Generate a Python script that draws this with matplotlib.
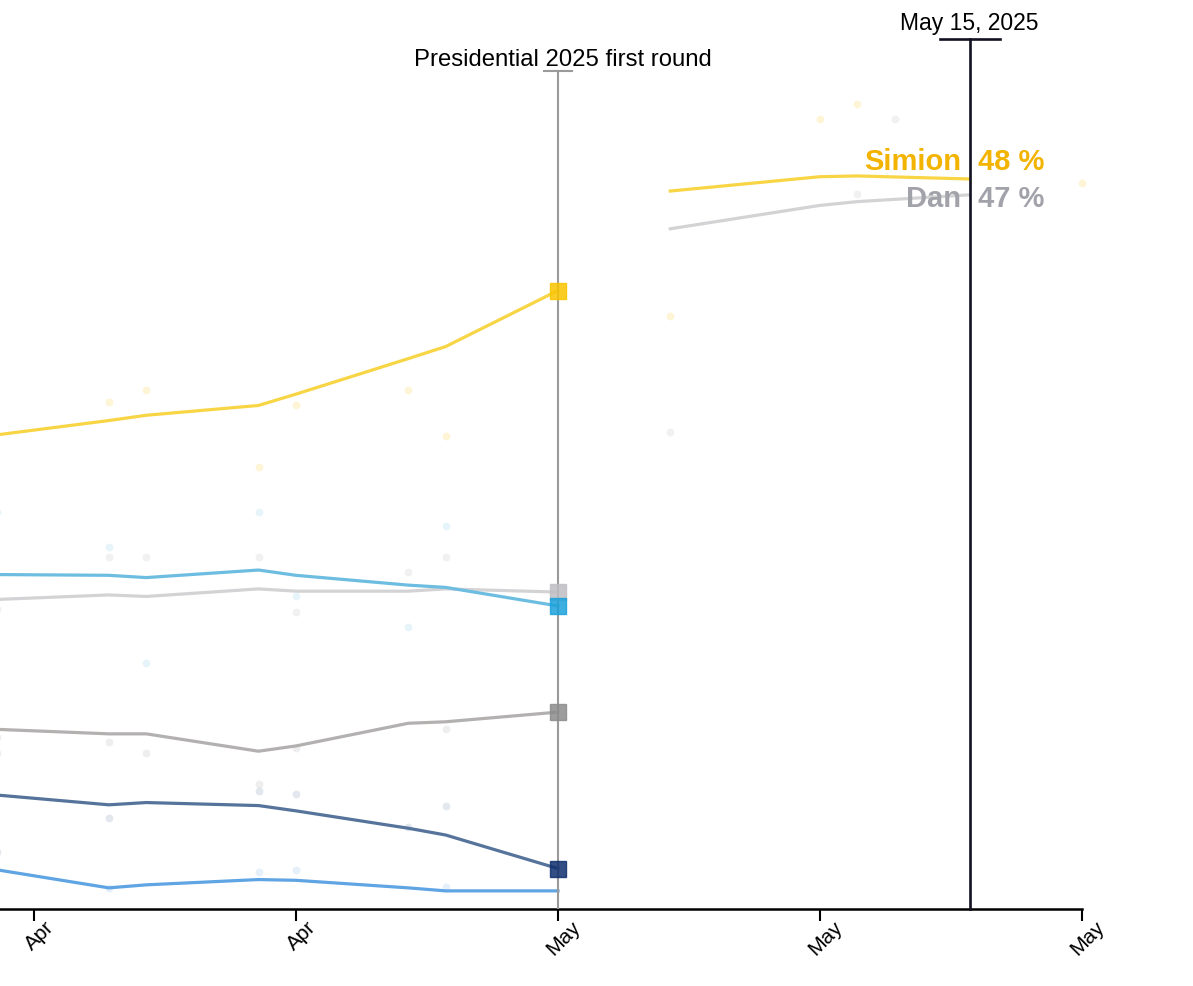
import matplotlib.pyplot as plt
import matplotlib.dates as mdates
import matplotlib.transforms as mtransforms
import pandas as pd

plt.rcParams['font.family'] = ['Liberation Sans', 'DejaVu Sans']

# first round: poll averages (%)
r1_dates = pd.to_datetime(['2025-04-19', '2025-04-22', '2025-04-23', '2025-04-26',
                           '2025-04-27', '2025-04-30', '2025-05-01', '2025-05-04'])
simion_r1 = [31.4, 32.35, 32.7, 33.35, 34.1, 36.45, 37.25, 40.96]
antonescu_r1 = [22.15, 22.1, 21.95, 22.45, 22.1, 21.45, 21.3, 20.07]
dan_r1 = [20.5, 20.8, 20.7, 21.2, 21.05, 21.05, 21.2, 20.99]
ponta_r1 = [11.9, 11.6, 11.6, 10.45, 10.8, 12.3, 12.4, 13.04]
lasconi_r1 = [7.55, 6.9, 7.05, 6.85, 6.5, 5.35, 4.9, 2.68]
other_r1 = [2.6, 1.4, 1.6, 1.95, 1.9, 1.4, 1.2, 1.2]

# first round results (squares)
result_date = pd.Timestamp('2025-05-04')
results = {'simion': 40.96, 'dan': 20.99, 'antonescu': 20.07, 'ponta': 13.04, 'lasconi': 2.68}

# second round averages
r2_dates = pd.to_datetime(['2025-05-07', '2025-05-11', '2025-05-12', '2025-05-15'])
simion_r2 = [47.55, 48.5, 48.55, 48.35]
dan_r2 = [45.05, 46.6, 46.85, 47.3]

# individual polls
simion_poll_dates = pd.to_datetime(['2025-04-22', '2025-04-23', '2025-04-26', '2025-04-27', '2025-04-30',
                                    '2025-05-01', '2025-05-07', '2025-05-11', '2025-05-12', '2025-05-18'])
simion_polls = [33.6, 34.35, 29.3, 33.4, 34.35, 31.3, 39.25, 52.3, 53.3, 48.1]
antonescu_poll_dates = pd.to_datetime(['2025-04-19', '2025-04-22', '2025-04-23', '2025-04-26', '2025-04-27',
                                       '2025-04-30', '2025-05-01'])
antonescu_polls = [26.3, 23.95, 16.3, 26.3, 20.7, 18.65, 25.35]
dan_poll_dates = pd.to_datetime(['2025-04-19', '2025-04-22', '2025-04-23', '2025-04-26', '2025-04-27',
                                 '2025-04-30', '2025-05-01', '2025-05-07', '2025-05-12', '2025-05-13'])
dan_polls = [19.9, 23.3, 23.3, 23.3, 19.7, 22.3, 23.3, 31.6, 47.35, 52.3]
ponta_poll_dates = pd.to_datetime(['2025-04-19', '2025-04-19', '2025-04-22', '2025-04-23', '2025-04-26',
                                   '2025-04-27', '2025-05-01'])
ponta_polls = [11.4, 10.3, 11.05, 10.3, 8.3, 10.65, 11.95]
lasconi_poll_dates = pd.to_datetime(['2025-04-19', '2025-04-22', '2025-04-26', '2025-04-27', '2025-04-30',
                                     '2025-05-01'])
lasconi_polls = [3.8, 6.05, 7.8, 7.6, 5.45, 6.8]
other_poll_dates = pd.to_datetime(['2025-04-22', '2025-04-26', '2025-04-27', '2025-05-01'])
other_polls = [1.4, 2.45, 2.55, 1.45]

tick_dates = pd.to_datetime(['2025-04-20', '2025-04-27', '2025-05-04', '2025-05-11', '2025-05-18'])
first_round = pd.Timestamp('2025-05-04')
today = pd.Timestamp('2025-05-15')

# colours
c_simion, c_simion_sq, c_simion_txt = '#f8d545', '#f9c400', '#f2b400'
c_dan, c_dan_sq, c_dan_txt = '#d3d3d5', '#bfbfc4', '#a2a2aa'
c_anto, c_anto_sq = '#6dbde1', '#1ba1db'
c_ponta, c_ponta_sq = '#b3b0b0', '#8c8c8c'
c_lasc, c_lasc_sq = '#56749b', '#0f2f6e'
c_other = '#5fa4e3'

fig = plt.figure(figsize=(11.93, 9.87), dpi=100)
ax = fig.add_axes([0, 77 / 987, 1082 / 1193, 870 / 987])

# poll dots
for d, v, c in [(simion_poll_dates, simion_polls, c_simion_sq),
                (antonescu_poll_dates, antonescu_polls, c_anto),
                (dan_poll_dates, dan_polls, '#a8a8b0'),
                (ponta_poll_dates, ponta_polls, '#9a9a9a'),
                (lasconi_poll_dates, lasconi_polls, c_lasc),
                (other_poll_dates, other_polls, c_other)]:
    ax.scatter(d, v, s=32, color=c, alpha=0.16, linewidths=0, zorder=1, clip_on=False)

# lines
lw = 2.3
ax.plot(r1_dates, simion_r1, color=c_simion, lw=lw, zorder=3, clip_on=False)
ax.plot(r1_dates, antonescu_r1, color=c_anto, lw=lw, zorder=3, clip_on=False)
ax.plot(r1_dates, dan_r1, color=c_dan, lw=lw, zorder=2, clip_on=False)
ax.plot(r1_dates, ponta_r1, color=c_ponta, lw=lw, zorder=3, clip_on=False)
ax.plot(r1_dates, lasconi_r1, color=c_lasc, lw=lw, zorder=3, clip_on=False)
ax.plot(r1_dates, other_r1, color=c_other, lw=lw, zorder=3, clip_on=False)
ax.plot(r2_dates, simion_r2, color=c_simion, lw=lw, zorder=3)
ax.plot(r2_dates, dan_r2, color=c_dan, lw=lw, zorder=2)

# result squares
for key, c in [('simion', c_simion_sq), ('dan', c_dan_sq), ('antonescu', c_anto_sq),
               ('ponta', c_ponta_sq), ('lasconi', c_lasc_sq)]:
    ax.plot([result_date], [results[key]], marker='s', markersize=11.5, color=c,
            markeredgecolor=c, alpha=0.85, zorder=5, clip_on=False)

# reference lines
top_gray = 55.5
ax.plot([first_round, first_round], [0, top_gray], color='#9a9a9a', lw=1.5, zorder=4)
ax.plot([first_round - pd.Timedelta(hours=8.7), first_round + pd.Timedelta(hours=8.7)],
        [top_gray, top_gray], color='#9a9a9a', lw=1.5, zorder=4, clip_on=False)
ax.annotate('Presidential 2025 first round', (first_round, top_gray), xytext=(3.5, 4.3),
            textcoords='offset points', ha='center', va='baseline', fontsize=17.2)

top_black = 57.62
ax.plot([today, today], [0, top_black], color='#111122', lw=1.9, zorder=6, clip_on=False)
ax.plot([today - pd.Timedelta(hours=19.2), today + pd.Timedelta(hours=19.2)],
        [top_black, top_black], color='#111122', lw=1.9, zorder=6, clip_on=False)
ax.annotate('May 15, 2025', (today, top_black), xytext=(0, 7.2),
            textcoords='offset points', ha='center', va='baseline', fontsize=16.5,
            annotation_clip=False)

# end labels
lab_y = {'simion': 49.55, 'dan': 47.1}
ax.annotate('Simion', (today, lab_y['simion']), xytext=(-6, 0), textcoords='offset points',
            ha='right', va='center', fontsize=21, fontweight='bold', color=c_simion_txt, zorder=7)
ax.annotate('48 %', (today, lab_y['simion']), xytext=(6, 0), textcoords='offset points',
            ha='left', va='center', fontsize=21, fontweight='bold', color=c_simion_txt, zorder=7)
ax.annotate('Dan', (today, lab_y['dan']), xytext=(-6, 0), textcoords='offset points',
            ha='right', va='center', fontsize=21, fontweight='bold', color=c_dan_txt, zorder=7)
ax.annotate('47 %', (today, lab_y['dan']), xytext=(6, 0), textcoords='offset points',
            ha='left', va='center', fontsize=21, fontweight='bold', color=c_dan_txt, zorder=7)

# axes
ax.set_ylim(0, top_black)
ax.set_xlim(pd.Timestamp('2025-05-18') - pd.Timedelta(days=28.907), pd.Timestamp('2025-05-18'))
ax.set_xticks(tick_dates)
ax.xaxis.set_major_formatter(mdates.DateFormatter('%b'))
ax.tick_params(axis='x', length=8.5, width=1.5, labelsize=15, pad=0, labelrotation=45)
shift = mtransforms.ScaledTranslation(6 / 100, 4 / 100, fig.dpi_scale_trans)
for lab in ax.get_xticklabels():
    lab.set_transform(lab.get_transform() + shift)
ax.set_yticks([])
for s in ['top', 'left', 'right']:
    ax.spines[s].set_visible(False)
ax.spines['bottom'].set_linewidth(1.8)
ax.patch.set_alpha(0)

plt.savefig('out.png', dpi=100, facecolor='white')
plt.close()
